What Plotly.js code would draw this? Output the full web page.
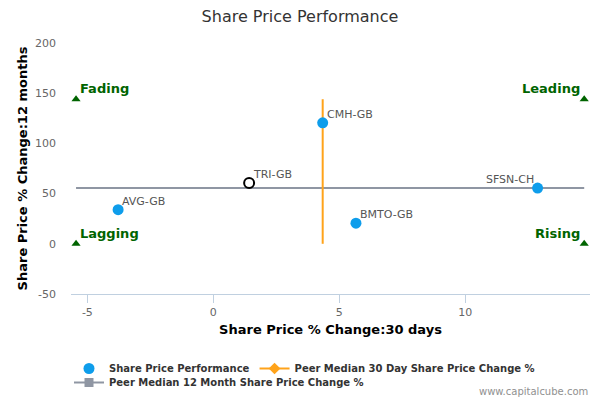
<!DOCTYPE html>
<html>
<head>
<meta charset="utf-8">
<script src="https://cdn.plot.ly/plotly-3.0.1.min.js"></script>
<style>
  html, body { margin: 0; padding: 0; background: #fff; }
  #chart { width: 600px; height: 400px; }
</style>
</head>
<body>
<div id="chart"></div>
<script>
// Peer companies: 30 day and 12 month share price change (%)
var tickers = ['AVG-GB', 'CMH-GB', 'BMTO-GB', 'SFSN-CH'];
var chg30 = [-3.78, 4.34, 5.66, 12.87];
var chg12 = [34, 120.5, 20.5, 55.5];
var labelSide = ['right', 'right', 'right', 'left'];

// Subject company (open circle)
var subjectName = ['TRI-GB'];
var subject30 = [1.42];
var subject12 = [60.5];

// Peer medians
var median30 = 4.34;
var median12 = 55.5;

// Quadrant markers
var quadNames = ['Fading', 'Leading', 'Lagging', 'Rising'];
var quadX = [-5.45, 14.72, -5.45, 14.72];
var quadY = [144, 144, 0, 0];
var quadSide = ['right', 'left', 'right', 'left'];

// Axis ticks
var xTicks = [-5, 0, 5, 10];
var xTickText = ['-5', '0', '5', '10'];
var yTicks = [-50, 0, 50, 100, 150, 200];
var yTickText = ['-50', '0', '50', '100', '150', '200'];

var FONT = 'DejaVu Sans, Verdana, sans-serif';
var BLUE = '#0e9deb';
var ORANGE = '#ffa31a';
var GREY = '#8f96a3';

// Lignes médianes
var line12 = {
    x: [quadX[0], quadX[1]],
    y: [median12, median12],
    mode: 'lines',
    line: { color: GREY, width: 2 },
    showlegend: false,
    hoverinfo: 'skip'
};
var line30 = {
    x: [median30, median30],
    y: [quadY[2], quadY[0]],
    mode: 'lines',
    line: { color: ORANGE, width: 2 },
    showlegend: false,
    hoverinfo: 'skip'
};

var peers = {
    x: chg30,
    y: chg12,
    mode: 'markers',
    marker: { color: BLUE, size: 11 },
    name: 'Share Price Performance'
};

var subject = {
    x: subject30,
    y: subject12,
    mode: 'markers',
    marker: { color: 'rgba(0,0,0,0)', size: 10, line: { color: '#000000', width: 2 } },
    showlegend: false
};

var quads = {
    x: quadX,
    y: quadY,
    mode: 'markers',
    marker: { symbol: 'triangle-up', color: '#006400', size: 8 },
    showlegend: false,
    hoverinfo: 'skip'
};

// Entrées de légende seulement
var leg30 = {
    x: [null], y: [null],
    mode: 'lines+markers',
    line: { color: ORANGE, width: 2 },
    marker: { symbol: 'diamond', color: ORANGE, size: 9 },
    name: 'Peer Median 30 Day Share Price Change %'
};
var leg12 = {
    x: [null], y: [null],
    mode: 'lines+markers',
    line: { color: GREY, width: 2 },
    marker: { symbol: 'square', color: GREY, size: 9 },
    name: 'Peer Median 12 Month Share Price Change %',
    legend: 'legend2'
};

var data = [line12, line30, peers, subject, quads, leg30, leg12];

// Étiquettes des points
function pointLabel(x, y, text, side, size, color, bold) {
    return {
        x: x, y: y,
        xref: 'x', yref: 'y',
        text: bold ? '<b>' + text + '</b>' : text,
        showarrow: false,
        xanchor: side === 'right' ? 'left' : 'right',
        yanchor: 'bottom',
        xshift: side === 'right' ? 2 : -2,
        yshift: bold ? 1 : 0,
        font: { family: FONT, size: size, color: color }
    };
}

var annotations = [];
for (var i = 0; i < tickers.length; i++) {
    annotations.push(pointLabel(chg30[i], chg12[i], tickers[i], labelSide[i], 11, '#555555', false));
}
annotations.push(pointLabel(subject30[0], subject12[0], subjectName[0], 'right', 11, '#555555', false));
for (var j = 0; j < quadNames.length; j++) {
    annotations.push(pointLabel(quadX[j], quadY[j], quadNames[j], quadSide[j], 13, '#006400', true));
}
annotations.push({
    xref: 'paper', yref: 'paper',
    x: 1, xanchor: 'right',
    y: -0.39, yanchor: 'middle',
    text: 'www.capitalcube.com',
    showarrow: false,
    font: { family: FONT, size: 10, color: '#909090' }
});

var legendFont = { family: FONT, size: 10, color: '#333333', weight: 'bold' };

var layout = {
    width: 600,
    height: 400,
    margin: { l: 71, r: 10, t: 43, b: 106 },
    paper_bgcolor: '#ffffff',
    plot_bgcolor: '#ffffff',
    font: { family: FONT, color: '#666666' },
    title: {
        text: 'Share Price Performance',
        font: { family: FONT, size: 16, color: '#333333' },
        x: 0.5, xanchor: 'center',
        y: 0.96, yanchor: 'middle'
    },
    xaxis: {
        range: [-5.65, 14.95],
        tickvals: xTicks,
        ticktext: xTickText,
        showgrid: false,
        zeroline: false,
        showline: true,
        linecolor: '#c0d0e0',
        linewidth: 1,
        ticks: 'outside',
        ticklen: 8,
        tickcolor: '#c0d0e0',
        tickfont: { family: FONT, size: 11, color: '#666666' },
        title: {
            text: '<b>Share Price % Change:30 days</b>',
            font: { family: FONT, size: 13, color: '#000000' },
            standoff: 6
        }
    },
    yaxis: {
        range: [-50, 200],
        tickvals: yTicks,
        ticktext: yTickText,
        showgrid: false,
        zeroline: false,
        showline: false,
        ticks: '',
        ticklabelstandoff: 14,
        tickfont: { family: FONT, size: 11, color: '#666666' },
        title: {
            text: '<b>Share Price % Change:12 months</b>',
            font: { family: FONT, size: 13, color: '#000000' },
            standoff: 4
        }
    },
    legend: {
        orientation: 'h',
        xref: 'container', yref: 'container',
        x: 0.115, xanchor: 'left',
        y: 0.115, yanchor: 'top',
        font: legendFont,
        bgcolor: 'rgba(0,0,0,0)',
        itemwidth: 30
    },
    legend2: {
        orientation: 'h',
        xref: 'container', yref: 'container',
        x: 0.115, xanchor: 'left',
        y: 0.08, yanchor: 'top',
        font: legendFont,
        bgcolor: 'rgba(0,0,0,0)',
        itemwidth: 30
    },
    annotations: annotations
};

var config = { displayModeBar: false, staticPlot: true };

Plotly.newPlot('chart', data, layout, config);
</script>
</body>
</html>
